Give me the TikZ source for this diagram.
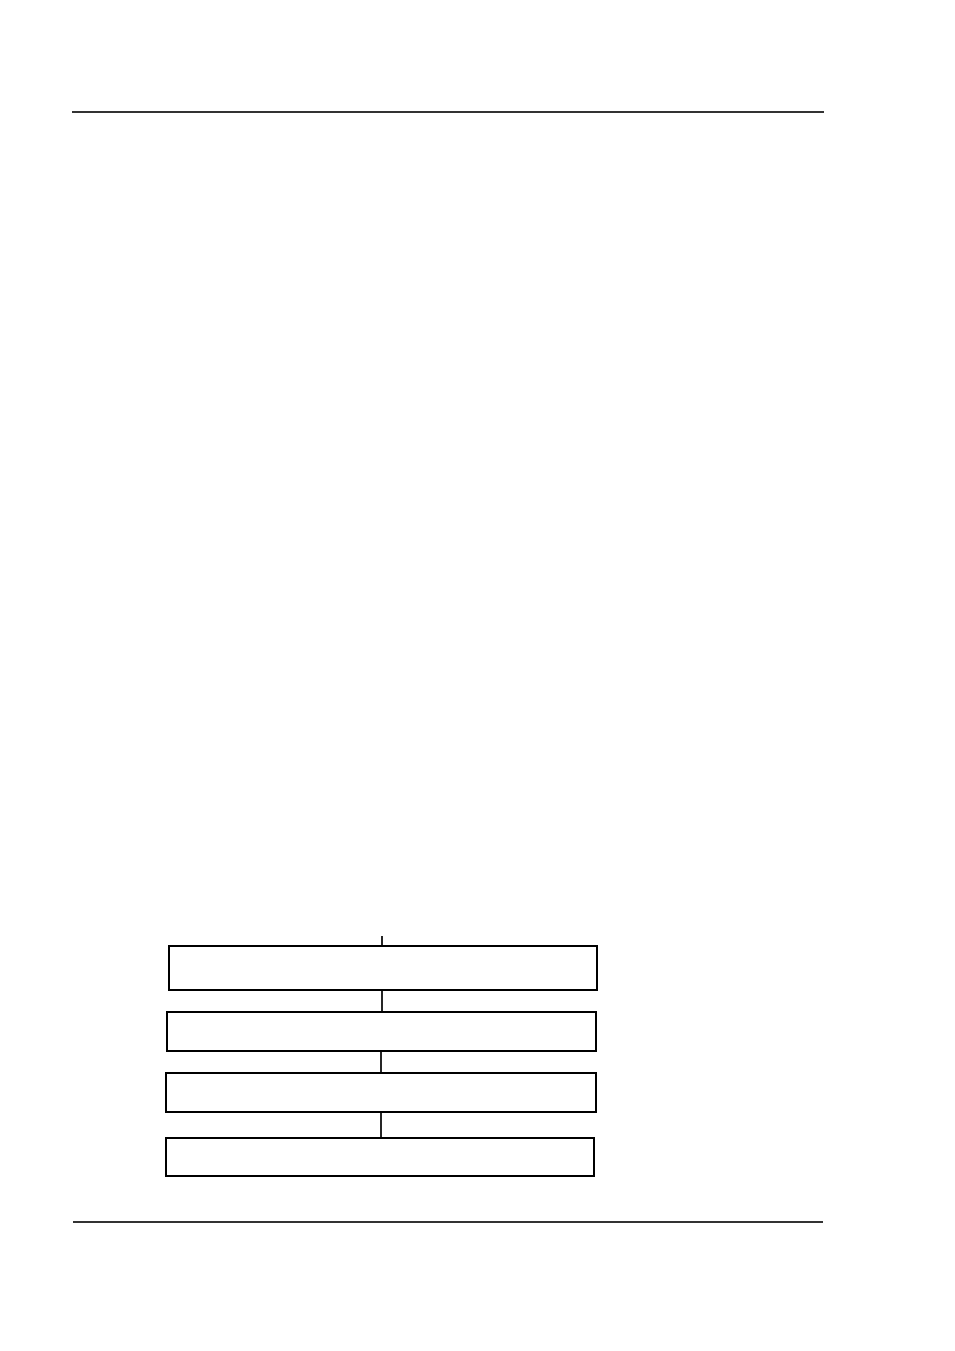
\documentclass[tikz,border=0pt]{standalone}
\begin{document}
\begin{tikzpicture}[x=0.75pt,y=-0.75pt,
  stepbox/.style={draw=black,line width=1.5pt,inner sep=0pt,minimum width=428*0.75pt},
  rule/.style={draw=black!80,line width=0.9pt},
  conn/.style={draw=black!85,line width=1.2pt}]
\useasboundingbox (0,0) rectangle (954,1351);
\draw[rule] (72,112) -- (824,112);
\draw[rule] (73,1222) -- (823,1222);
\node[stepbox,minimum height=44*0.75pt] (b1) at (382.5,968) {};
\node[stepbox,minimum height=39*0.75pt,minimum width=429*0.75pt] (b2) at (381.5,1031.5) {};
\node[stepbox,minimum height=39*0.75pt,minimum width=430*0.75pt] (b3) at (381,1092.5) {};
\node[stepbox,minimum height=38*0.75pt] (b4) at (380,1157) {};
\coordinate (top) at (382,936);
\draw[conn] (top) -- (top |- b1.north);
\draw[conn] (b1.south -| 382,0) -- (b2.north -| 382,0);
\draw[conn] (b2.south -| 381,0) -- (b3.north -| 381,0);
\draw[conn] (b3.south -| 381,0) -- (b4.north -| 381,0);
\end{tikzpicture}
\end{document}
